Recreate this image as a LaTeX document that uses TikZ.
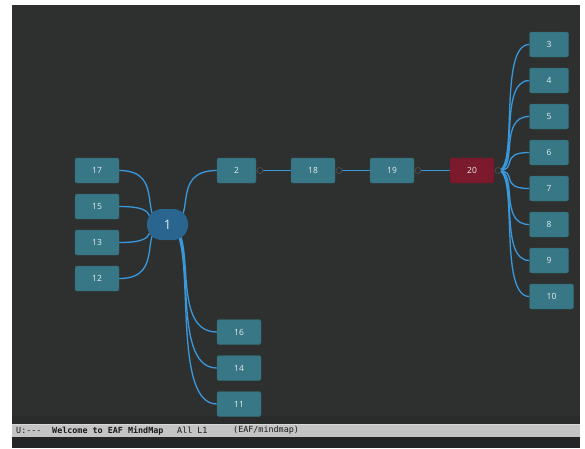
\documentclass[tikz,border=0pt]{standalone}
\usepackage{fontspec}
\usepackage{tikz}
\usetikzlibrary{calc,positioning,backgrounds}
\newfontfamily\labelfont{Open Sans}
\newfontfamily\modefont{DejaVu Sans Mono}
\definecolor{canvas}{HTML}{2E302F}
\definecolor{band}{HTML}{2A2C2C}
\definecolor{modeline}{HTML}{C4C4C4}
\definecolor{minibuf}{HTML}{232526}
\definecolor{teal}{HTML}{387785}
\definecolor{rootblue}{HTML}{2A6590}
\definecolor{topicred}{HTML}{7A1A2C}
\definecolor{linkblue}{HTML}{3A98DC}
\definecolor{labelgrey}{HTML}{E6EEF0}
\pgfdeclarelayer{edges}
\pgfsetlayers{background,edges,main}
\tikzset{link/.style={linkblue,line width=1.3pt}}

\begin{document}
\begin{tikzpicture}[x=1pt,y=-1pt,node distance=0.5pt,font=\labelfont\fontsize{8.5}{10}\selectfont]

\tikzset{tealnode/.style={fill=teal,draw=teal!85!black,text=labelgrey,rounded corners=2pt,inner sep=0pt,minimum width=44pt,minimum height=25pt},
smallnode/.style={tealnode,minimum width=39pt},
rednode/.style={tealnode,fill=topicred,draw=topicred!85!black},
rootnode/.style={fill=rootblue,text=labelgrey,rounded corners=15pt,inner sep=0pt,minimum width=41pt,minimum height=31pt,font=\labelfont\fontsize{13}{15}\selectfont},
expnode/.style={circle,fill=canvas,draw=black!68,line width=0.6pt,inner sep=0pt,minimum size=6pt}}

\useasboundingbox (0,0) rectangle (585,448);

% Window
\begin{pgfonlayer}{background}
\fill[white] (0,0) rectangle (585,448);
\fill[canvas] (12,5) rectangle (580,416);
\fill[band] (12,416) rectangle (580,424);
\fill[modeline] (12,424) rectangle (580,437);
\draw[white!85!black] (12,424.3) -- (580,424.3);
\fill[minibuf] (12,437) rectangle (580,448);
\end{pgfonlayer}

% Root
\node[rootnode] (n1) at (167.5,224.5) {1};

% Left children
\node[tealnode] (n17) at (97,170.5) {17};
\node[tealnode] (n15) at (97,206.5) {15};
\node[tealnode] (n13) at (97,242.5) {13};
\node[tealnode] (n12) at (97,278.5) {12};

% Lower children
\node[tealnode] (n16) at (239,332) {16};
\node[tealnode] (n14) at (239,368) {14};
\node[tealnode] (n11) at (239,404) {11};

% Chain
\node[smallnode] (n2) at (236.5,170.5) {2};
\node[tealnode] (n18) at (313,170.5) {18};
\node[tealnode] (n19) at (392,170.5) {19};
\node[rednode] (n20) at (472,170.5) {20};
\foreach \n in {2,18,19,20} \node[expnode,right=of n\n] (e\n) {};

% Right children
\foreach \n [count=\i from 0] in {3,4,5,6,7,8,9} \node[smallnode] (n\n) at (549,44.5+36*\i) {\n};
\node[tealnode] (n10) at (551.5,296.5) {10};

% Links
\begin{pgfonlayer}{edges}
\foreach \c in {17,15,13,12} \draw[link] let \p1=(n1.center), \p2=(n\c.east) in (\p1) .. controls ({\x1+(\x2-\x1)*2/3},\y1) and (\x1,\y2) .. (\p2);
\foreach \c in {2,16,14,11} \draw[link] let \p1=(n1.center), \p2=(n\c.west) in (\p1) .. controls ({\x1+(\x2-\x1)*2/3},\y1) and (\x1,\y2) .. (\p2);
\draw[link] (e2.center) -- (n18.west);
\draw[link] (e18.center) -- (n19.west);
\draw[link] (e19.center) -- (n20.west);
\foreach \c in {3,4,5,6,7,8,9,10} \draw[link] let \p1=(e20.center), \p2=(n\c.west) in (\p1) .. controls ({\x1+(\x2-\x1)*2/3},\y1) and (\x1,\y2) .. (\p2);
\end{pgfonlayer}

% Mode line
\tikzset{modetext/.style={anchor=west,inner sep=0pt,text=black!90,font=\modefont\fontsize{8.4}{9}\selectfont}}
\node[modetext] (mstate) at (16,430.5) {U:---};
\node[modetext,font=\modefont\bfseries\fontsize{8.4}{9}\selectfont] (mtitle) at (52,430.5) {Welcome to EAF MindMap};
\node[modetext] (mpos) at (177,430.5) {All L1};
\node[modetext] (mmode) at (233,430.5) {(EAF/mindmap)};

\end{tikzpicture}
\end{document}
